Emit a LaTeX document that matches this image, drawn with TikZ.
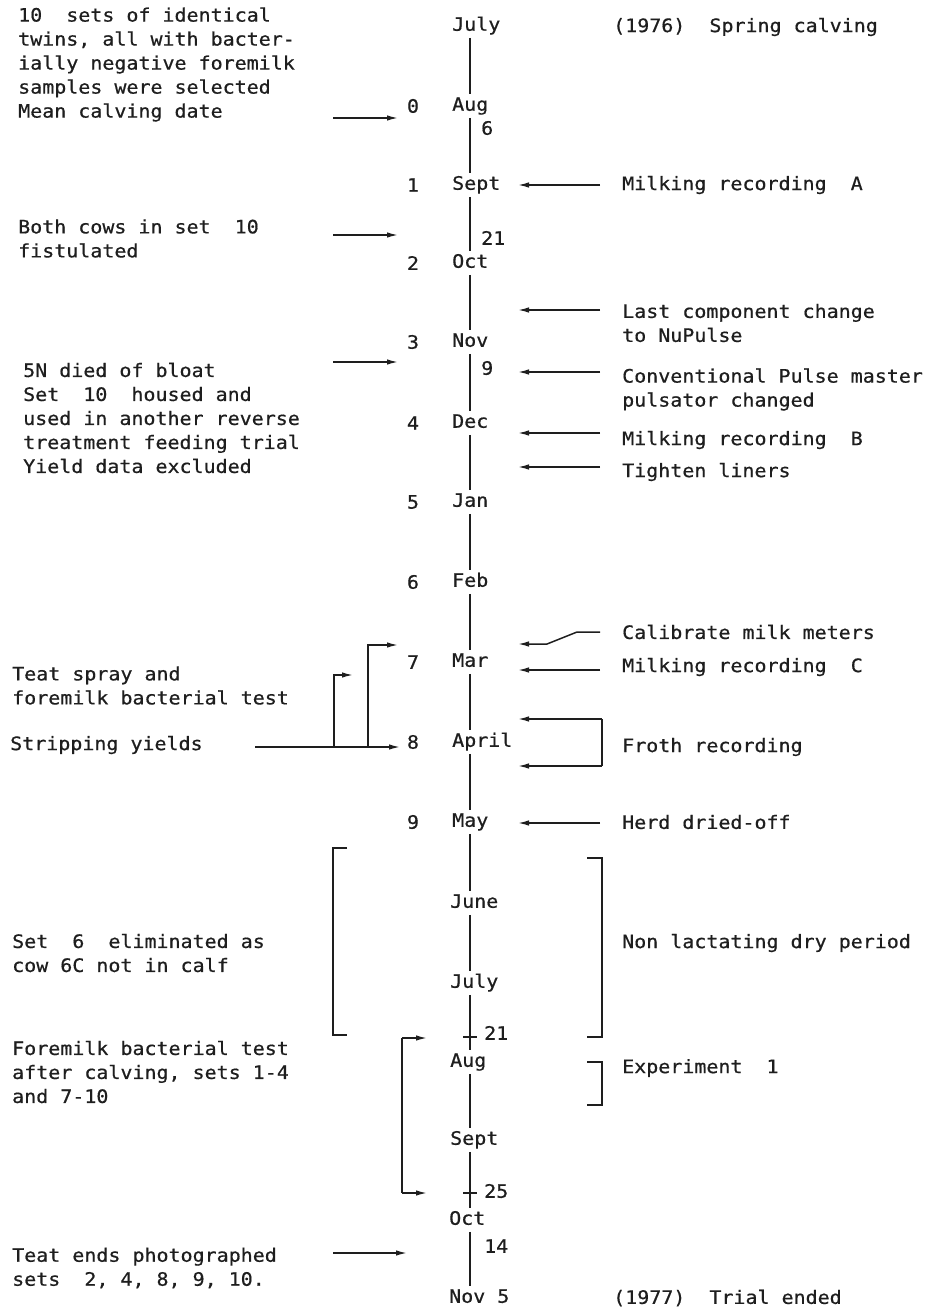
\documentclass[tikz,border=0pt]{standalone}
\usepackage{fontspec}
\setmainfont{DejaVu Sans Mono}[FakeStretch=1.08,FakeBold=0.6]
\usetikzlibrary{arrows.meta}
\definecolor{ink}{RGB}{30,30,30}
\begin{document}
\begin{tikzpicture}[x=1pt,y=-1pt,
  txt/.style={anchor=west,inner sep=0pt,align=left,text=ink,font=\fontsize{18.5}{24}\selectfont},
  mon/.style={anchor=west,inner sep=0pt,text=ink,font=\fontsize{18.5}{22}\selectfont,text height=13.5pt,text depth=4pt},
  num/.style={inner sep=0pt,text=ink,font=\fontsize{18.5}{22}\selectfont},
  ax/.style={draw=ink,line width=2pt,shorten <=3pt,shorten >=3pt},
  arr/.style={draw=ink,line width=1.5pt,-{Latex[length=11pt,width=5.5pt]}},
  ln/.style={draw=ink,line width=1.5pt},
  tick/.style={draw=ink,line width=1.5pt},
]
\useasboundingbox[fill=white] (0,0) rectangle (931,1311);
\coordinate (axis) at (470,0);
\coordinate (hd) at (518,0);
% months
\node[mon] (m1) at (452,26) {July};
\node[mon] (m2) at (452,106) {Aug};
\node[mon] (m3) at (452,185) {Sept};
\node[mon] (m4) at (452,263) {Oct};
\node[mon] (m5) at (452,342) {Nov};
\node[mon] (m6) at (452,423) {Dec};
\node[mon] (m7) at (452,502) {Jan};
\node[mon] (m8) at (452,582) {Feb};
\node[mon] (m9) at (452,662) {Mar};
\node[mon] (m10) at (452,742) {April};
\node[mon] (m11) at (452,822) {May};
\node[mon] (m12) at (450,903) {June};
\node[mon] (m13) at (450,983) {July};
\node[mon] (m14) at (450,1062) {Aug};
\node[mon] (m15) at (450,1140) {Sept};
\node[mon] (m16) at (449,1220) {Oct};
\node[mon] (m17) at (449,1298) {Nov 5};
% month numbers
\node[num] (n0) at (413,106) {0};
\node[num] (n1) at (413,185) {1};
\node[num] (n2) at (413,263) {2};
\node[num] (n3) at (413,342) {3};
\node[num] (n4) at (413,423) {4};
\node[num] (n5) at (413,502) {5};
\node[num] (n6) at (413,582) {6};
\node[num] (n7) at (413,662) {7};
\node[num] (n8) at (413,742) {8};
\node[num] (n9) at (413,822) {9};
% day labels
\node[mon] (d1) at (481,130) {6};
\node[mon] (d2) at (481,240) {21};
\node[mon] (d3) at (481,370) {9};
\node[mon] (d4) at (484,1035) {21};
\node[mon] (d5) at (484,1193) {25};
\node[mon] (d6) at (484,1248) {14};
% axis
\foreach \a/\b in {m1/m2,m2/m3,m3/m4,m4/m5,m5/m6,m6/m7,m7/m8,m8/m9,m9/m10,m10/m11,m11/m12,m12/m13,m13/m14,m14/m15,m15/m16,m16/m17}
  \draw[ax] (axis|-\a.south) -- (axis|-\b.north);
\coordinate (t1) at (470,1037);
\coordinate (t2) at (470,1193);
\draw[tick] ([xshift=-7pt]t1) -- ([xshift=7pt]t1);
\draw[tick] ([xshift=-7pt]t2) -- ([xshift=7pt]t2);
% headers
\node[txt] (h1) at (613,27) {(1976)~~Spring calving};
\node[txt] (h2) at (613,1298) {(1977)~~Trial ended};
% left texts
\node[txt] (L1) at (18,64.5) {10~~sets of identical\\twins, all with bacter-\\ially negative foremilk\\samples were selected\\Mean calving date};
\node[txt] (L2) at (18,238.5) {Both cows in set~~10\\fistulated};
\node[txt] (L3) at (23,418) {5N died of bloat\\Set~~10~~housed and\\used in another reverse\\treatment feeding trial\\Yield data excluded};
\node[txt] (L4) at (12,685.5) {Teat spray and\\foremilk bacterial test};
\node[txt] (L5) at (10,745) {Stripping yields};
\node[txt] (L6) at (12,953) {Set~~6~~eliminated as\\cow 6C not in calf};
\node[txt] (L7) at (12,1072) {Foremilk bacterial test\\after calving, sets 1-4\\and 7-10};
\node[txt] (L8) at (12,1268) {Teat ends photographed\\sets~~2, 4, 8, 9, 10.};
% right texts
\node[txt] (R1) at (622,185) {Milking recording~~A};
\node[txt] (R2) at (622,323) {Last component change\\to NuPulse};
\node[txt] (R3) at (622,389.5) {Conventional Pulse master\\pulsator changed};
\node[txt] (R4) at (622,440) {Milking recording~~B};
\node[txt] (R5) at (622,472) {Tighten liners};
\node[txt] (R6) at (622,632) {Calibrate milk meters};
\node[txt] (R7) at (622,667) {Milking recording~~C};
\node[txt] (R8) at (622,747) {Froth recording};
\node[txt] (R9) at (622,822) {Herd dried-off};
\node[txt] (R10) at (622,943) {Non lactating dry period};
\node[txt] (R11) at (622,1068) {Experiment~~1};
% left arrows
\coordinate (la1) at (333,118); \coordinate (lb1) at (398,118);
\coordinate (la2) at (333,235); \coordinate (lb2) at (398,235);
\coordinate (la3) at (333,362); \coordinate (lb3) at (398,362);
\coordinate (la4) at (333,1253); \coordinate (lb4) at (407,1253);
\draw[arr] (la1) -- (lb1);
\draw[arr] (la2) -- (lb2);
\draw[arr] (la3) -- (lb3);
\draw[arr] (la4) -- (lb4);
% right arrows
\foreach \y in {185,310,372,433,467,670,823}
  \draw[arr] (600,\y) -- (hd|-0,\y);
\coordinate (c1) at (600,632); \coordinate (c2) at (577,632); \coordinate (c3) at (547,644);
\draw[arr] (c1) -- (c2) -- (c3) -- (hd|-c3);
% froth bracket
\coordinate (f1) at (602,719); \coordinate (f2) at (602,766);
\draw[arr] (f1) -- (hd|-f1);
\draw[ln] (f1) -- (f2);
\draw[arr] (f2) -- (hd|-f2);
% stripping yields
\coordinate (s0) at (255,747); \coordinate (s1) at (400,747);
\coordinate (b1) at (334,747); \coordinate (b1t) at (334,675); \coordinate (b1h) at (353,675);
\coordinate (b2) at (368,747); \coordinate (b2t) at (368,645); \coordinate (b2h) at (398,645);
\draw[arr] (s0) -- (s1);
\draw[arr] (b1) -- (b1t) -- (b1h);
\draw[arr] (b2) -- (b2t) -- (b2h);
% brackets
\draw[ln] (347,848) -- (333,848) -- (333,1035) -- (347,1035);
\draw[ln] (587,858) -- (602,858) -- (602,1037) -- (587,1037);
\draw[ln] (587,1062) -- (602,1062) -- (602,1105) -- (587,1105);
\coordinate (g1) at (402,1038); \coordinate (g2) at (402,1193);
\draw[arr] (g1) -- (427,1038);
\draw[ln] (g1) -- (g2);
\draw[arr] (g2) -- (427,1193);
\end{tikzpicture}
\end{document}
